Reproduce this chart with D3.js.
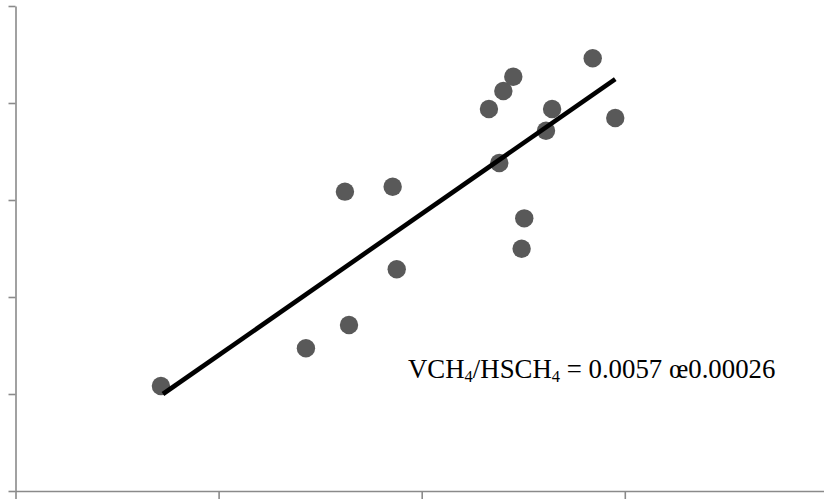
<!DOCTYPE html>
<html>
<head>
<meta charset="utf-8">
<script src="https://cdn.jsdelivr.net/npm/d3@7"></script>
<style>
html,body{margin:0;padding:0;background:#fff;}
svg{display:block;}
</style>
</head>
<body>
<svg id="chart" width="824" height="499"></svg>
<script>
// Data
const xValues = [0.716, 1.430, 1.622, 1.642, 1.857, 1.877, 2.331, 2.382, 2.402, 2.451, 2.492, 2.505, 2.612, 2.642, 2.842, 2.953];
const yValues = [1.082, 1.471, 3.086, 1.711, 3.137, 2.286, 3.938, 3.381, 4.124, 4.271, 2.498, 2.811, 3.714, 3.938, 4.461, 3.845];
const fitX = [0.726, 2.953];
const fitY = [1.000, 4.247];
const xTicks = [0, 1, 2, 3, 4];
const yTicks = [0, 1, 2, 3, 4, 5];
const annotation = {main1: "VCH", sub1: "4", main2: "/HSCH", sub2: "4", rest: " = 0.0057 œ0.00026"};

const svg = d3.select("#chart");
const x = d3.scaleLinear().domain([0, 4]).range([15.5, 827.9]);
const y = d3.scaleLinear().domain([0, 5]).range([491, 6]);
const axisColor = "#8a8a8a";

const gx = svg.append("g").attr("transform", "translate(0,491)")
  .call(d3.axisBottom(x).tickValues(xTicks).tickSize(8).tickSizeOuter(0).tickFormat(""));
const gy = svg.append("g").attr("transform", "translate(15.5,0)")
  .call(d3.axisLeft(y).tickValues(yTicks).tickSize(7).tickSizeOuter(0).tickFormat(""));
[gx, gy].forEach(g => {
  g.selectAll("path.domain").attr("stroke", axisColor).attr("stroke-width", 1.6);
  g.selectAll(".tick line").attr("stroke", axisColor).attr("stroke-width", 1.6);
});

const pts = xValues.map((v, i) => ({x: v, y: yValues[i]}));
svg.append("g").selectAll("circle").data(pts).join("circle")
  .attr("cx", d => x(d.x)).attr("cy", d => y(d.y)).attr("r", 9.2)
  .attr("fill", "#595959");

svg.append("line")
  .attr("x1", x(fitX[0])).attr("y1", y(fitY[0]))
  .attr("x2", x(fitX[1])).attr("y2", y(fitY[1]))
  .attr("stroke", "#000").attr("stroke-width", 4.6);

const t = svg.append("text").attr("x", 408).attr("y", 378)
  .attr("font-family", "'Liberation Serif', 'Times New Roman', serif")
  .attr("font-size", 26.8).attr("fill", "#000");
t.append("tspan").text(annotation.main1);
t.append("tspan").attr("font-size", 16.5).attr("dy", 4).text(annotation.sub1);
t.append("tspan").attr("dy", -4).text(annotation.main2);
t.append("tspan").attr("font-size", 16.5).attr("dy", 4).text(annotation.sub2);
t.append("tspan").attr("dy", -4).text(annotation.rest);
</script>
</body>
</html>
